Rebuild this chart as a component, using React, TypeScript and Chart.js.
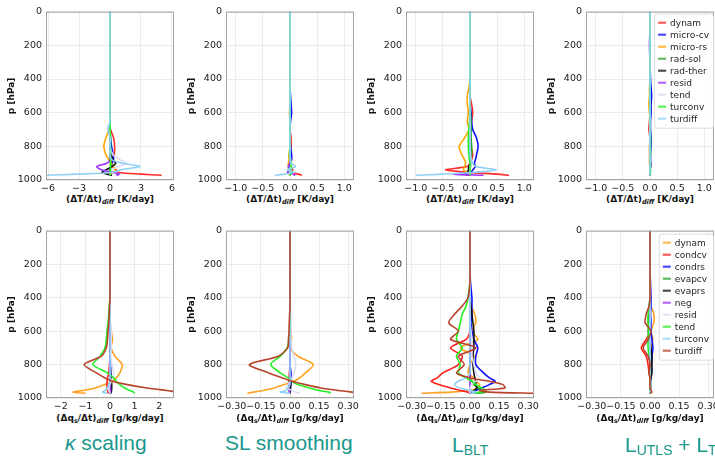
import React, { useEffect, useRef } from "react";
import { Chart, registerables } from "chart.js";

Chart.register(...registerables);
Chart.defaults.font.family = "'DejaVu Sans', sans-serif";

// ---------------- DATA ----------------
const P_LEVELS = [0, 100, 200, 300, 400, 450, 500, 550, 600, 650, 700, 750, 800, 850, 880, 900, 920, 940, 955, 965, 972];
const Y_TICKS = [0, 200, 400, 600, 800, 1000];
const X_TICKS_T_KAPPA = [-6, -3, 0, 3, 6];
const X_TICKS_T = [-1.0, -0.5, 0.0, 0.5, 1.0];
const X_TICKS_Q_KAPPA = [-2, -1, 0, 1, 2];
const X_TICKS_Q = [-0.3, -0.15, 0.0, 0.15, 0.3];

const T_LABELS = ["dynam", "micro-cv", "micro-rs", "rad-sol", "rad-ther", "resid", "tend", "turconv", "turdiff"];
const T_COLORS = ["#ff2a2a", "#1010ff", "#ffa500", "#2ca02c", "#111111", "#9b30ff", "#dcdcf6", "#22ee22", "#8fd0f5"];
const Q_LABELS = ["dynam", "condcv", "condrs", "evapcv", "evaprs", "neg", "resid", "tend", "turconv", "turdiff"];
const Q_COLORS = ["#ffa020", "#ff2020", "#1010ff", "#2ca02c", "#111111", "#9b30ff", "#dcdcf6", "#22ee22", "#8fd0f5", "#b8432b"];

const CAPTIONS = ["κ scaling", "SL smoothing", "L", "L"];

// temperature tendencies, kappa scaling
const T1_DYNAM = [0, 0, 0, 0, 0, 0, 0, 0, 0, 0, 0.05, 0.35, 0.45, 0.4, 0.2, 0.1, 0.25, 0.6, 0.8, 3.0, 5.0];
const T1_MICROCV = [0, 0, 0, 0, 0, 0, 0, 0, 0, 0, 0, 0.05, 0.15, 0.3, 0.35, 0.2, 0.1, 0, -0.1, 0, 0.05];
const T1_MICRORS = [0, 0, 0, 0, 0, 0, 0, 0, 0, 0, -0.1, -0.4, -0.6, -0.4, -0.1, 0.1, 0.3, 0.5, 0.3, 0, 0];
const T1_RADSOL = [0, 0, 0, 0, 0, 0, 0, 0, 0, 0, 0, 0, 0, 0.02, 0.05, 0.05, 0.05, 0, 0, -0.05, 0];
const T1_RADTHER = [0, 0, 0, 0, 0, 0, 0, 0, 0, 0, 0, 0, 0, 0.1, 0.3, 0.55, 0.2, -0.4, -0.8, -0.3, 0.2];
const T1_RESID = [0, 0, 0, 0, 0, 0, 0, 0, 0, 0, 0, 0, 0, 0, 0, -0.3, -1.3, -0.8, 0.3, 0.9, 0.6];
const T1_TEND = [0, 0, 0, 0, 0, 0, 0, 0, 0, 0, 0, 0, 0, 0.3, 1.0, 1.6, 0.8, 0.1, 0, 0, 0];
const T1_TURCONV = [0, 0, 0, 0, 0, 0, 0, 0, 0, 0, 0.02, 0.05, 0.05, 0.05, 0.05, 0.05, 0.05, 0.05, 0, 0, 0];
const T1_TURDIFF = [0, 0, 0, 0, 0, 0, 0, 0, 0, 0, -0.2, 0, 0, 0, 0.2, 1.2, 2.9, 1.0, 0.2, -3.0, -6.5];

// temperature tendencies, SL smoothing
const T2_DYNAM = [0, 0, 0, 0, 0, 0, 0, 0, 0, 0, 0, 0.02, 0.02, 0, 0, -0.02, 0.02, 0.05, 0.03, 0.15, 0.22];
const T2_MICROCV = [0, 0, 0, 0, 0, 0, 0.01, 0.02, 0.03, 0.01, 0, 0, 0.01, 0.03, 0.03, 0.01, 0, 0, 0, 0, 0];
const T2_MICRORS = [0, 0, 0, 0, 0, 0, 0, 0, -0.01, 0, 0, 0, 0, -0.02, -0.02, -0.03, -0.03, -0.02, 0, -0.02, 0];
const T2_RADSOL = [0, 0, 0, 0, 0, 0, 0, 0, 0, 0, 0, 0, 0, 0, 0.01, 0.01, 0.01, 0, 0, 0, 0];
const T2_RADTHER = [0, 0, 0, 0, 0, 0, 0, 0, 0, 0, 0, 0, 0, 0, 0, 0.01, 0.02, -0.01, -0.02, 0, 0];
const T2_RESID = [0, 0, 0, 0, 0, 0, 0, 0, 0, 0, 0, 0, 0, 0, 0, 0, -0.03, -0.02, -0.05, 0.05, 0.1];
const T2_TEND = [0, 0, 0, 0, 0, 0, 0, 0, 0, 0, 0, 0, 0, 0, 0.01, 0.02, 0.01, 0, 0, 0, 0];
const T2_TURCONV = [0, 0, 0, 0, 0, 0, 0, 0, 0, 0, 0, 0, 0, -0.01, 0, 0.02, 0.02, 0.02, 0.02, 0.01, 0];
const T2_TURDIFF = [0, 0, 0, 0, 0, 0, 0, 0, 0, 0, 0, 0, 0, 0, 0, 0.02, 0.1, -0.05, 0.08, -0.1, -0.28];

// temperature tendencies, L_BLT
const T3_DYNAM = [0, 0, 0, 0, 0, 0, 0, 0.03, 0.05, 0.03, 0, 0, 0.02, 0.05, 0.03, 0, -0.05, -0.45, 0, 0.5, 0.72];
const T3_MICROCV = [0, 0, 0, 0, 0, 0, 0, 0, 0.02, 0.03, 0.05, 0.12, 0.15, 0.12, 0.1, 0.08, 0.1, 0.05, 0.02, 0, 0];
const T3_MICRORS = [0, 0, 0, 0, 0, -0.02, -0.05, -0.05, -0.03, -0.05, -0.02, -0.1, -0.2, -0.15, -0.1, -0.08, -0.1, -0.12, -0.05, 0, 0];
const T3_RADSOL = [0, 0, 0, 0, 0, 0, 0, 0, 0.01, 0.02, 0.02, 0.02, 0.03, 0.03, 0.02, 0.02, 0.01, 0, 0, 0, 0];
const T3_RADTHER = [0, 0, 0, 0, 0, 0, 0, 0, 0, 0, 0, 0, 0, 0, 0, 0, -0.02, -0.03, -0.05, -0.1, 0];
const T3_RESID = [0, 0, 0, 0, 0, 0, 0, 0, 0, 0, 0, 0, 0, 0, 0, 0, 0, 0, -0.02, -0.3, 0.25];
const T3_TEND = [0, 0, 0, 0, 0, 0, 0, 0, 0, 0, 0, 0, 0, 0.01, 0.02, 0.02, 0.01, 0, 0, 0, 0];
const T3_TURCONV = [0, 0, 0, 0, 0, 0, 0, 0, 0, -0.01, -0.02, -0.03, -0.03, -0.02, -0.01, 0, 0, 0, 0, 0, 0];
const T3_TURDIFF = [0, 0, 0, 0, 0, 0, 0, 0, 0, 0, 0, 0, 0, 0, 0.02, 0.05, 0.1, 0.48, 0.05, -0.5, -1.0];

// temperature tendencies, L_UTLS + L_TRANS
const T4_DYNAM = [0, 0, 0, 0, 0, 0, 0, 0, 0, -0.01, -0.02, 0, 0, 0, 0, 0, 0, 0, 0, 0, 0];
const T4_MICROCV = [0, 0, 0, 0, 0.01, 0.02, 0.03, 0.02, 0.02, 0.01, 0.01, 0.02, 0.02, 0.01, 0.01, 0.01, 0.01, 0, 0, 0, 0];
const T4_MICRORS = [0, 0, 0, 0, 0, -0.01, -0.01, -0.02, -0.01, 0, 0, 0, -0.01, -0.01, -0.01, -0.01, 0, 0, 0, 0, 0];
const T4_RADSOL = [0, 0, 0, 0, 0, 0, 0, 0, 0, 0, 0, 0, 0, 0, 0, 0, 0, 0, 0, 0, 0];
const T4_RADTHER = [0, 0, 0, 0, 0, 0, 0, 0, 0, 0, 0, 0, 0, 0, 0, 0.01, 0.01, 0, 0, 0, 0];
const T4_RESID = [0, 0, -0.01, 0, 0, 0, 0, 0, 0, 0, 0, 0, 0, 0, 0, 0, 0, 0, 0, 0, 0];
const T4_TEND = [0, 0, 0, 0, 0, 0, 0, 0, 0, 0, 0, 0, 0, 0, 0, 0, 0, 0, 0, 0, 0];
const T4_TURCONV = [0, 0, 0, 0, 0, 0, 0, 0, 0, 0, 0, 0.01, 0.01, 0.01, 0, 0, 0, 0.01, 0.01, 0, 0];
const T4_TURDIFF = [0, 0, 0, 0, 0, 0, 0, 0, 0, 0, 0, 0, 0, 0, 0, 0, 0, 0, 0, 0, 0];

// moisture tendencies, kappa scaling
const B1_DYNAM = [0, 0, 0, 0, 0, 0, 0, 0, 0.05, 0.1, 0.05, 0.2, 0.5, 0.4, 0.25, 0.1, -0.2, -0.6, -1.1, -1.5, -1.0];
const B1_CONDCV = [0, 0, 0, 0, 0, 0, 0, 0, 0, 0, 0, 0, -0.02, -0.05, -0.1, -0.12, -0.12, -0.12, -0.1, -0.08, -0.05];
const B1_CONDRS = [0, 0, 0, 0, 0, 0, 0, 0, 0, 0, 0, 0, 0.02, 0.03, 0.05, 0.05, 0.05, 0.05, 0.05, 0.03, 0];
const B1_EVAPCV = [0, 0, 0, 0, 0, 0, 0, 0, 0, 0, 0, 0, 0, 0.02, 0.02, 0.03, 0.03, 0.03, 0.02, 0, 0];
const B1_EVAPRS = [0, 0, 0, 0, 0, 0, 0, 0, 0, 0, 0, 0, 0.01, 0.02, 0.04, 0.06, 0.07, 0.07, 0.06, 0.05, 0.03];
const B1_NEG = [0, 0, 0, 0, 0, 0, 0, 0, 0, 0, 0, 0, 0, 0, 0, 0, 0.01, 0.02, 0.02, 0.01, 0];
const B1_RESID = [0, 0, 0, 0, 0, 0, 0, 0.02, 0.05, 0.05, 0.05, 0.03, 0.08, 0.15, 0.1, 0.05, 0, -0.1, -0.05, 0, 0];
const B1_TEND = [0, 0, 0, 0, 0, -0.03, -0.05, -0.08, -0.12, -0.15, -0.2, -0.4, -0.7, -0.1, 0.15, 0.25, 0.4, 0.6, 0.8, 0.95, 1.0];
const B1_TURCONV = [0, 0, 0, 0, 0, 0, 0, 0, 0, 0, 0, 0, 0, 0, 0, 0, -0.05, -0.1, -0.2, -0.3, -0.1];
const B1_TURDIFF = [0, 0, 0, 0, 0, -0.02, -0.03, -0.05, -0.08, -0.1, -0.15, -0.35, -1.05, -0.55, -0.2, 0.1, 0.7, 1.5, 2.3, 2.8, 3.3];

// moisture tendencies, SL smoothing
const B2_DYNAM = [0, 0, 0, 0, 0, 0, 0, 0, 0.005, 0.008, 0, 0.04, 0.12, 0.08, 0.05, 0.02, -0.03, -0.08, -0.14, -0.19, -0.22];
const B2_CONDCV = [0, 0, 0, 0, 0, 0, 0, 0, 0, 0, 0, 0, 0, -0.003, -0.005, -0.005, -0.005, -0.005, -0.003, 0, 0];
const B2_CONDRS = [0, 0, 0, 0, 0, 0, 0, 0, 0, 0, 0, 0, 0, 0.005, 0.005, 0.005, 0.005, 0, 0, 0, 0];
const B2_EVAPCV = [0, 0, 0, 0, 0, 0, 0, 0, 0, 0, 0, 0, 0, 0, 0, 0, 0, 0, 0, 0, 0];
const B2_EVAPRS = [0, 0, 0, 0, 0, 0, 0, 0, 0, 0, 0, 0, 0, 0, 0.002, 0.003, 0.003, 0.003, 0.002, 0, 0];
const B2_NEG = [0, 0, 0, 0, 0, 0, 0, 0, 0, 0, 0, 0, 0, 0, 0, -0.005, -0.005, -0.005, -0.005, -0.003, 0];
const B2_RESID = [0, 0, 0, 0, 0, 0, 0.003, 0.005, 0.005, 0.005, 0.01, 0.02, 0.03, 0.02, 0.01, 0, -0.01, -0.02, 0.01, 0.03, 0.05];
const B2_TEND = [0, 0, 0, 0, 0, 0, 0, 0, 0, -0.005, -0.015, -0.05, -0.1, -0.05, -0.01, 0.01, 0.04, 0.1, 0.15, 0.2, 0.21];
const B2_TURCONV = [0, 0, 0, 0, 0, 0, 0, 0, 0, 0, 0, 0, 0, 0, 0, 0, 0, -0.01, -0.02, -0.05, 0];
const B2_TURDIFF = [0, 0, 0, 0, 0, 0, -0.002, -0.004, -0.005, -0.008, -0.012, -0.06, -0.21, -0.11, -0.04, 0.01, 0.08, 0.16, 0.25, 0.32, 0.36];

// moisture tendencies, L_BLT
const B3_DYNAM = [0, 0, 0, 0, 0, 0.005, 0.025, 0.03, 0.01, 0.04, -0.05, 0.02, 0, -0.01, 0.02, 0.03, 0.05, 0.04, 0, -0.1, -0.25];
const B3_CONDCV = [0, 0, 0, 0, 0, 0, 0, 0, 0, -0.02, -0.1, -0.04, -0.06, -0.14, -0.17, -0.2, -0.16, -0.1, -0.05, -0.01, 0];
const B3_CONDRS = [0, 0, 0, 0.002, 0.01, 0.01, 0.01, 0.005, 0.01, 0.02, 0.04, 0.03, 0.03, 0.07, 0.1, 0.13, 0.1, 0.06, 0.03, 0.01, 0];
const B3_EVAPCV = [0, 0, 0, 0, 0, 0, 0, 0, 0, 0, 0, 0, 0, 0, 0, 0.01, 0.02, 0.04, 0.06, 0.08, 0.02];
const B3_EVAPRS = [0, 0, 0, 0, 0, 0.005, 0.01, 0.015, 0.02, 0.02, 0.02, 0.015, 0.015, 0.02, 0.025, 0.03, 0.03, 0.035, 0.02, 0.01, 0];
const B3_NEG = [0, 0, 0, 0, 0, 0, 0, 0, 0, 0, 0, 0, 0, 0, 0, 0, 0, 0, 0, -0.002, 0];
const B3_RESID = [0, 0, 0, 0, 0, 0, 0, 0, 0.005, 0.01, 0.01, 0.01, 0.02, 0.03, 0.05, 0.03, 0.01, 0, 0, 0, 0];
const B3_TEND = [0, 0, 0, 0, -0.01, -0.02, -0.04, -0.05, -0.06, -0.07, -0.04, -0.07, -0.05, -0.06, -0.02, 0.01, 0.03, 0.06, 0.08, 0.05, 0.02];
const B3_TURCONV = [0, 0, 0, 0, 0, 0, 0, 0, 0, 0, 0, 0, 0, 0, -0.02, -0.06, -0.08, -0.05, 0, 0.03, 0];
const B3_TURDIFF = [0, 0, 0, 0, -0.01, -0.04, -0.08, -0.11, -0.06, -0.1, 0.03, -0.06, -0.03, -0.07, 0, 0.1, 0.17, 0.18, 0.05, 0.1, 0.34];

// moisture tendencies, L_UTLS + L_TRANS
const B4_DYNAM = [0, 0, 0, 0, 0, 0.005, 0.02, 0.02, 0.005, 0.015, 0.005, 0, 0, 0, 0, 0, 0, 0, 0, 0, 0];
const B4_CONDCV = [0, 0, 0, 0, 0, 0, -0.005, -0.01, 0, -0.02, -0.045, -0.02, -0.01, -0.005, 0, 0, 0, 0, 0, 0, 0];
const B4_CONDRS = [0, 0, 0, 0.002, 0.005, 0.005, 0.005, 0.005, 0.005, 0.01, 0.015, 0.01, 0.005, 0.005, 0.005, 0, 0, 0, 0, 0, 0];
const B4_EVAPCV = [0, 0, 0, 0, 0, 0, 0, -0.005, -0.01, -0.005, 0, 0, 0, 0, 0, 0, 0, 0, 0, 0, 0];
const B4_EVAPRS = [0, 0, 0, 0, 0, 0, 0, 0, 0, 0, 0.005, 0.01, 0.01, 0.01, 0.005, 0.005, 0.005, 0.005, 0, 0, 0];
const B4_NEG = [0, 0, 0, 0, 0, 0, 0, 0, 0, 0, 0, 0, 0, 0, 0, 0, 0, 0, 0, 0, 0];
const B4_RESID = [0, 0, 0, 0, 0, 0, 0.005, 0, 0, 0, 0, 0, 0, 0, 0, 0, 0, 0, 0, 0, 0];
const B4_TEND = [0, 0, 0, 0, 0, -0.005, -0.01, -0.01, -0.005, -0.01, -0.01, -0.005, 0, 0, 0, 0, 0, 0, 0, 0, 0];
const B4_TURCONV = [0, 0, 0, 0, 0, 0, 0, 0, 0, 0, 0, 0, 0, 0, 0, 0.005, 0.005, 0.005, 0, 0, 0];
const B4_TURDIFF = [0, 0, 0, 0, 0, -0.005, -0.02, -0.025, 0.005, -0.01, -0.035, -0.01, 0, -0.005, 0, 0, 0, 0, 0.005, 0.01, 0];

// ---------------- LAYOUT ----------------
const AXIS_W = 46;
const PAD_T = 8;
const PAD_R = 14;
const XAXIS_H = 14;
const COL_LEFT = [46, 226, 406, 586];
const COL_W = 128;
const ROW_TOP = [10, 229];
const ROW_H = [170, 169];
const TICK_FONT = 9.5;

type Spec = {
  col: number;
  row: number;
  xMax: number;
  xTicks: number[];
  dec: number;
  labels: string[];
  colors: string[];
  values: number[][];
  legend: boolean;
};

const SPECS: Spec[] = [
  { col: 0, row: 0, xMax: 6.2, xTicks: X_TICKS_T_KAPPA, dec: 0, labels: T_LABELS, colors: T_COLORS, legend: false,
    values: [T1_DYNAM, T1_MICROCV, T1_MICRORS, T1_RADSOL, T1_RADTHER, T1_RESID, T1_TEND, T1_TURCONV, T1_TURDIFF] },
  { col: 1, row: 0, xMax: 1.18, xTicks: X_TICKS_T, dec: 1, labels: T_LABELS, colors: T_COLORS, legend: false,
    values: [T2_DYNAM, T2_MICROCV, T2_MICRORS, T2_RADSOL, T2_RADTHER, T2_RESID, T2_TEND, T2_TURCONV, T2_TURDIFF] },
  { col: 2, row: 0, xMax: 1.18, xTicks: X_TICKS_T, dec: 1, labels: T_LABELS, colors: T_COLORS, legend: false,
    values: [T3_DYNAM, T3_MICROCV, T3_MICRORS, T3_RADSOL, T3_RADTHER, T3_RESID, T3_TEND, T3_TURCONV, T3_TURDIFF] },
  { col: 3, row: 0, xMax: 1.18, xTicks: X_TICKS_T, dec: 1, labels: T_LABELS, colors: T_COLORS, legend: true,
    values: [T4_DYNAM, T4_MICROCV, T4_MICRORS, T4_RADSOL, T4_RADTHER, T4_RESID, T4_TEND, T4_TURCONV, T4_TURDIFF] },
  { col: 0, row: 1, xMax: 2.6, xTicks: X_TICKS_Q_KAPPA, dec: 0, labels: Q_LABELS, colors: Q_COLORS, legend: false,
    values: [B1_DYNAM, B1_CONDCV, B1_CONDRS, B1_EVAPCV, B1_EVAPRS, B1_NEG, B1_RESID, B1_TEND, B1_TURCONV, B1_TURDIFF] },
  { col: 1, row: 1, xMax: 0.33, xTicks: X_TICKS_Q, dec: 2, labels: Q_LABELS, colors: Q_COLORS, legend: false,
    values: [B2_DYNAM, B2_CONDCV, B2_CONDRS, B2_EVAPCV, B2_EVAPRS, B2_NEG, B2_RESID, B2_TEND, B2_TURCONV, B2_TURDIFF] },
  { col: 2, row: 1, xMax: 0.33, xTicks: X_TICKS_Q, dec: 2, labels: Q_LABELS, colors: Q_COLORS, legend: false,
    values: [B3_DYNAM, B3_CONDCV, B3_CONDRS, B3_EVAPCV, B3_EVAPRS, B3_NEG, B3_RESID, B3_TEND, B3_TURCONV, B3_TURDIFF] },
  { col: 3, row: 1, xMax: 0.33, xTicks: X_TICKS_Q, dec: 2, labels: Q_LABELS, colors: Q_COLORS, legend: true,
    values: [B4_DYNAM, B4_CONDCV, B4_CONDRS, B4_EVAPCV, B4_EVAPRS, B4_NEG, B4_RESID, B4_TEND, B4_TURCONV, B4_TURDIFF] },
];

// ---------------- PLUGINS ----------------
const framePlugin = {
  id: "frame",
  afterDatasetsDraw(chart: any) {
    const { ctx, chartArea: a } = chart;
    ctx.save();
    ctx.strokeStyle = "#a4a4a4";
    ctx.lineWidth = 1;
    ctx.strokeRect(a.left + 0.5, a.top + 0.5, a.right - a.left - 1, a.bottom - a.top - 1);
    ctx.restore();
  },
};

const boxLegendPlugin = {
  id: "boxLegend",
  afterDraw(chart: any, _args: any, opts: any) {
    if (!opts || !opts.show) return;
    const { ctx, chartArea: a } = chart;
    const ds = chart.data.datasets;
    ctx.save();
    ctx.font = "9px 'DejaVu Sans', sans-serif";
    let tw = 0;
    ds.forEach((d: any) => { tw = Math.max(tw, ctx.measureText(d.label).width); });
    const rowH = 12;
    const w = 4 + 8 + 4 + tw + 4;
    const h = ds.length * rowH + 6;
    const x0 = a.right - 1 - w;
    const y0 = a.top + opts.offsetY;
    ctx.beginPath();
    ctx.roundRect(x0 + 0.5, y0 + 0.5, w, h, 2);
    ctx.fillStyle = "rgba(255,255,255,0.85)";
    ctx.fill();
    ctx.strokeStyle = "#d6d6d6";
    ctx.lineWidth = 0.8;
    ctx.stroke();
    ds.forEach((d: any, i: number) => {
      const cy = y0 + 3 + rowH * (i + 0.5);
      ctx.globalAlpha = 0.75;
      ctx.strokeStyle = d.borderColor;
      ctx.lineWidth = 2.2;
      ctx.beginPath();
      ctx.moveTo(x0 + 4, cy);
      ctx.lineTo(x0 + 12, cy);
      ctx.stroke();
      ctx.globalAlpha = 1;
      ctx.fillStyle = "#262626";
      ctx.textBaseline = "middle";
      ctx.textAlign = "left";
      ctx.fillText(d.label, x0 + 16, cy + 0.5);
    });
    ctx.restore();
  },
};

function fmt(v: number, dec: number) {
  const s = Math.abs(v) < 1e-9 ? (0).toFixed(dec) : v.toFixed(dec);
  return s.replace("-", "\u2212");
}

function Panel({ spec }: { spec: Spec }) {
  const ref = useRef<HTMLCanvasElement>(null);
  const left = COL_LEFT[spec.col];
  const top = ROW_TOP[spec.row];
  const h = ROW_H[spec.row];
  const cw = COL_W + AXIS_W + PAD_R;
  const ch = h + PAD_T + XAXIS_H;

  useEffect(() => {
    const n = spec.labels.length;
    const datasets = spec.labels.map((label, i) => ({
      label,
      data: P_LEVELS.map((p, k) => ({ x: spec.values[i][k], y: p })),
      borderColor: spec.colors[i],
      backgroundColor: spec.colors[i],
      borderWidth: 1.6,
      showLine: true,
      pointRadius: 0,
      tension: 0.25,
      fill: false,
      clip: 0,
      order: n - i,
    }));
    const chart = new Chart(ref.current as HTMLCanvasElement, {
      type: "scatter",
      data: { datasets } as any,
      options: {
        responsive: false,
        animation: false,
        events: [],
        devicePixelRatio: 1,
        layout: { padding: { left: 0, top: PAD_T, right: PAD_R, bottom: 0 } },
        plugins: {
          legend: { display: false },
          tooltip: { enabled: false },
          boxLegend: { show: spec.legend, offsetY: spec.row === 0 ? 2 : 3 },
        } as any,
        scales: {
          x: {
            type: "linear",
            min: -spec.xMax,
            max: spec.xMax,
            afterFit: (s: any) => { s.height = XAXIS_H; },
            afterBuildTicks: (s: any) => { s.ticks = spec.xTicks.map((v) => ({ value: v })); },
            ticks: {
              autoSkip: false,
              maxRotation: 0,
              minRotation: 0,
              padding: 3,
              color: "#1a1a1a",
              font: { size: TICK_FONT },
              callback: (v: any) => fmt(Number(v), spec.dec),
            },
            grid: { color: "#e6e6e6", lineWidth: 0.8, drawTicks: false },
            border: { display: false },
          },
          y: {
            type: "linear",
            reverse: true,
            min: 0,
            max: 1000,
            afterFit: (s: any) => { s.width = AXIS_W; },
            afterBuildTicks: (s: any) => { s.ticks = Y_TICKS.map((v) => ({ value: v })); },
            ticks: { padding: 4, color: "#1a1a1a", font: { size: TICK_FONT }, callback: (v: any) => String(v) },
            grid: { color: "#e6e6e6", lineWidth: 0.8, drawTicks: false },
            border: { display: false },
            title: {
              display: true,
              text: "p [hPa]",
              color: "#111",
              font: { size: 9, weight: "bold" },
              padding: { top: 6, bottom: 0 },
            },
          },
        },
      } as any,
      plugins: [framePlugin, boxLegendPlugin] as any,
    });
    return () => chart.destroy();
  }, []);

  return (
    <canvas
      ref={ref}
      width={cw}
      height={ch}
      style={{ position: "absolute", left: left - AXIS_W, top: top - PAD_T, width: cw, height: ch }}
    />
  );
}

const titleStyle: React.CSSProperties = {
  position: "absolute",
  width: 180,
  textAlign: "center",
  fontFamily: "'DejaVu Sans', sans-serif",
  fontWeight: "bold",
  fontSize: 9,
  lineHeight: "9px",
  color: "#111",
  whiteSpace: "nowrap",
};
const subStyle: React.CSSProperties = { fontSize: 6.5, position: "relative", top: 2, fontStyle: "italic" };

const capStyle: React.CSSProperties = {
  position: "absolute",
  fontFamily: "'Liberation Sans', Arial, sans-serif",
  fontSize: 21,
  lineHeight: "21px",
  color: "#1a978c",
  whiteSpace: "nowrap",
};
const capSub: React.CSSProperties = { fontSize: 14, position: "relative", top: 3 };

export default function App() {
  return (
    <div style={{ position: "absolute", left: 0, top: 0, width: 715, height: 456, overflow: "hidden", background: "#fff" }}>
      {SPECS.map((s, i) => (
        <Panel key={i} spec={s} />
      ))}
      {COL_LEFT.map((l, i) => (
        <div key={"tt" + i} style={{ ...titleStyle, left: l + COL_W / 2 - 90, top: 195 }}>
          (ΔT/Δt)<span style={subStyle}>diff</span> [K/day]
        </div>
      ))}
      {COL_LEFT.map((l, i) => (
        <div key={"tq" + i} style={{ ...titleStyle, left: l + COL_W / 2 - 90, top: 414 }}>
          (Δq<span style={{ fontSize: 6.5, position: "relative", top: 2 }}>s</span>/Δt)<span style={subStyle}>diff</span> [g/kg/day]
        </div>
      ))}
      <div style={{ ...capStyle, left: 65, top: 432 }}>
        <i>κ</i>{CAPTIONS[0].slice(1)}
      </div>
      <div style={{ ...capStyle, left: 225, top: 432 }}>{CAPTIONS[1]}</div>
      <div style={{ ...capStyle, left: 452, top: 434 }}>
        {CAPTIONS[2]}<span style={capSub}>BLT</span>
      </div>
      <div style={{ ...capStyle, left: 625, top: 434 }}>
        {CAPTIONS[3]}<span style={capSub}>UTLS</span> + L<span style={capSub}>TRANS</span>
      </div>
    </div>
  );
}
